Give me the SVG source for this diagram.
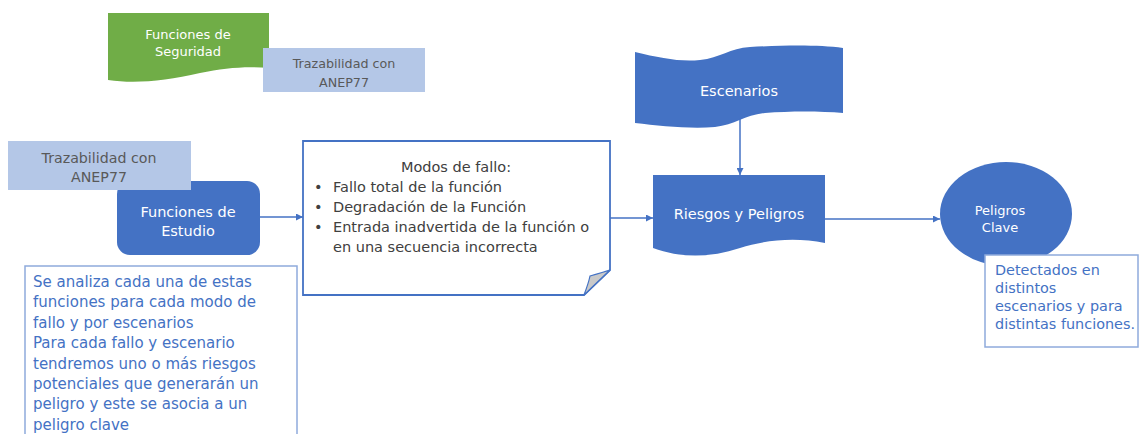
<svg xmlns="http://www.w3.org/2000/svg" width="1139" height="434" viewBox="0 0 1139 434">
<style>
text{font-family:"DejaVu Sans","Liberation Sans",sans-serif}
.w{fill:#ffffff}
.g{fill:#595959}
.d{fill:#404040}
.b{fill:#4472c4}
.blue{fill:#4472c4}
.lb{fill:#b4c7e7}
.note{fill:#ffffff;stroke:#8faadc;stroke-width:1.5}
.c{stroke:#4472c4;stroke-width:1.5;fill:none}
</style>
<defs>
<marker id="ah" viewBox="0 0 10 10" refX="10" refY="5" markerWidth="7" markerHeight="7" markerUnits="userSpaceOnUse" orient="auto">
<path d="M0,0 L10,5 L0,10 Z" fill="#4472c4"/>
</marker>
</defs>
<rect width="1139" height="434" fill="#ffffff"/>

<g id="funciones-seguridad">
<path d="M108,13 H269 V68 C245,66 225,68 200,73 C165,81 135,84 108,80 Z" fill="#70ad47"/>
<text x="188" y="39" font-size="13" text-anchor="middle" class="w">Funciones de</text>
<text x="188" y="56" font-size="13" text-anchor="middle" class="w">Seguridad</text>
</g>

<g id="trazabilidad-top">
<rect x="263" y="48" width="162" height="44" class="lb"/>
<text x="344" y="68" font-size="12.7" text-anchor="middle" class="g">Trazabilidad con</text>
<text x="344" y="87" font-size="12.7" text-anchor="middle" class="g">ANEP77</text>
</g>

<g id="escenarios">
<path d="M635,52 C660,58 680,62 700,60 C720,58 730,48 750,47 C790,45 820,45 843,48 V113 C820,111 790,111 765,113 C745,115 735,125 715,127 C690,129 660,126 635,123 Z" class="blue"/>
<text x="739" y="96" font-size="14.5" text-anchor="middle" class="w">Escenarios</text>
</g>

<g id="connectors">
<path d="M260,217 H303" class="c" marker-end="url(#ah)"/>
<path d="M610,218 H653" class="c" marker-end="url(#ah)"/>
<path d="M825,219 H940" class="c" marker-end="url(#ah)"/>
<path d="M740,118 V175" class="c" marker-end="url(#ah)"/>
</g>

<g id="funciones-estudio">
<rect x="117" y="181" width="143" height="74" rx="13" class="blue"/>
<text x="188" y="217" font-size="14.5" text-anchor="middle" class="w">Funciones de</text>
<text x="188" y="236" font-size="14.5" text-anchor="middle" class="w">Estudio</text>
</g>

<g id="trazabilidad-left">
<rect x="8" y="141" width="183" height="49" class="lb"/>
<text x="99" y="163" font-size="14.2" text-anchor="middle" class="g">Trazabilidad con</text>
<text x="99" y="182" font-size="14.2" text-anchor="middle" class="g">ANEP77</text>
</g>

<g id="nota-analisis">
<rect x="25" y="266" width="272" height="180" class="note"/>
<g font-size="15" class="b">
<text x="33" y="287">Se analiza cada una de estas</text>
<text x="33" y="307.4">funciones para cada modo de</text>
<text x="33" y="327.8">fallo y por escenarios</text>
<text x="33" y="348.2">Para cada fallo y escenario</text>
<text x="33" y="368.6">tendremos uno o más riesgos</text>
<text x="33" y="389">potenciales que generarán un</text>
<text x="33" y="409.4">peligro y este se asocia a un</text>
<text x="33" y="429.8">peligro clave</text>
</g>
</g>

<g id="modos-fallo">
<path d="M303,141 H610 V270 L584,295 H303 Z" fill="#ffffff" stroke="#4472c4" stroke-width="1.8"/>
<path d="M584,295 C587,287 589,281 590,276 C597,274 604,272 610,270 Z" fill="#c9c9c9" stroke="#4472c4" stroke-width="1.2"/>
<g font-size="14.5" class="d">
<text x="456" y="172" text-anchor="middle">Modos de fallo:</text>
<text x="314" y="192">•</text>
<text x="333" y="192">Fallo total de la función</text>
<text x="314" y="212">•</text>
<text x="333" y="212">Degradación de la Función</text>
<text x="314" y="232">•</text>
<text x="333" y="232">Entrada inadvertida de la función o</text>
<text x="333" y="252">en una secuencia incorrecta</text>
</g>
</g>

<g id="riesgos-peligros">
<path d="M653,175 H825 V243 C795,237 765,240 740,248 C710,258 680,258 653,248 Z" class="blue"/>
<text x="739" y="219" font-size="14.5" text-anchor="middle" class="w">Riesgos y Peligros</text>
</g>

<g id="peligros-clave">
<ellipse cx="1006" cy="214" rx="66" ry="52" class="blue"/>
<text x="1000" y="215" font-size="13" text-anchor="middle" class="w">Peligros</text>
<text x="1000" y="232" font-size="13" text-anchor="middle" class="w">Clave</text>
</g>

<g id="nota-detectados">
<rect x="985" y="255" width="153" height="92" class="note"/>
<g font-size="14.4" class="b">
<text x="995" y="275">Detectados en</text>
<text x="995" y="293">distintos</text>
<text x="995" y="311">escenarios y para</text>
<text x="995" y="329">distintas funciones.</text>
</g>
</g>
</svg>
